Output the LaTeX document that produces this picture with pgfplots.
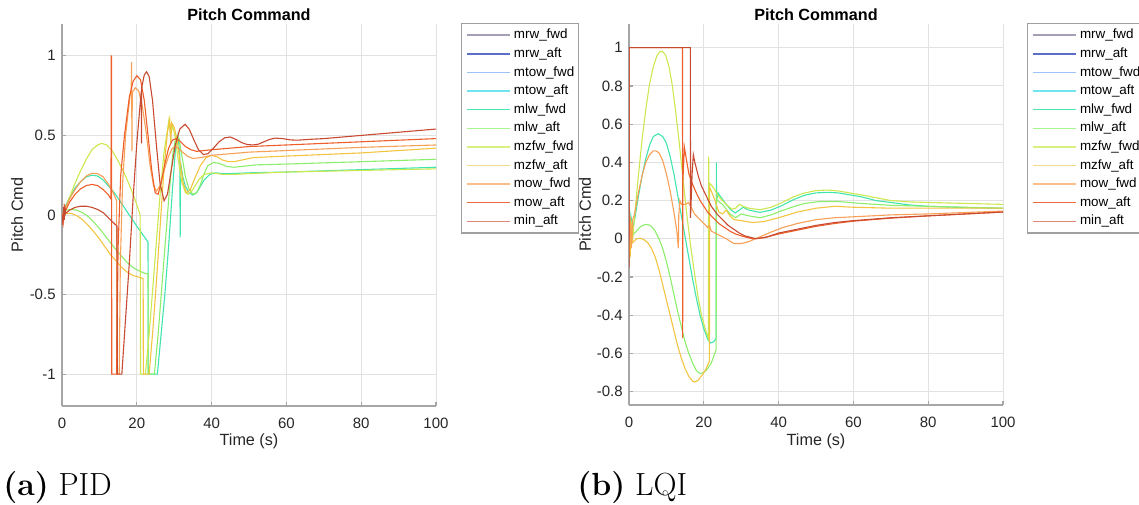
\documentclass[border=0pt]{standalone}
\usepackage{fontspec}
\usepackage{pgfplots}
\pgfplotsset{compat=1.18}
\newfontfamily\arial{Liberation Sans}
\definecolor{axgray}{HTML}{A6A6A6}
\definecolor{gridgray}{HTML}{E2E2E2}
\definecolor{tickgray}{HTML}{262626}
\definecolor{leggray}{HTML}{A0A0A0}
% legend colours
\definecolor{LmrwF}{HTML}{A79FB5}
\definecolor{LmrwA}{HTML}{5C6FC8}
\definecolor{LmtowF}{HTML}{9CC3F5}
\definecolor{LmtowA}{HTML}{72E4F0}
\definecolor{LmlwF}{HTML}{4AE8AA}
\definecolor{LmlwA}{HTML}{A6F58E}
\definecolor{LmzfwF}{HTML}{D8EF82}
\definecolor{LmzfwA}{HTML}{F5D98A}
\definecolor{LmowF}{HTML}{FBBD8A}
\definecolor{LmowA}{HTML}{EE6A3C}
\definecolor{LminA}{HTML}{E08878}
% plot colours
\definecolor{cD}{HTML}{C84A30}
\definecolor{cE}{HTML}{EE5E2A}
\definecolor{cF}{HTML}{F8A055}
\definecolor{cG}{HTML}{F2C440}
\definecolor{cH}{HTML}{CCE850}
\definecolor{cI}{HTML}{8CEE6A}
\definecolor{cJ}{HTML}{40E4AE}
\pgfplotsset{
  mat/.style={
    scale only axis, width=187pt,
    xmin=0, xmax=100, xtick={0,20,40,60,80,100},
    axis x line*=bottom, axis y line*=left,
    axis line style={draw=axgray, line width=1pt, -},
    tick align=inside, major tick length=2.2pt,
    tick style={draw=axgray, line width=0.6pt},
    grid=major, major grid style={draw=gridgray, line width=0.5pt},
    /pgf/number format/assume math mode=true,
    ticklabel style={font=\arial\fontsize{7.5}{9}\selectfont, text=tickgray},
    xticklabel style={anchor=base, yshift=-11.15pt, inner sep=0pt},
    yticklabel style={anchor=east, xshift=-3pt, inner sep=0pt},
    label style={font=\arial\fontsize{8.1}{10}\selectfont, text=tickgray},
    title style={at={(0.5,1)}, anchor=base, yshift=-4.3pt, font=\arial\bfseries\fontsize{8.1}{10}\selectfont},
    title={Pitch Command}, xlabel={Time (s)}, ylabel={Pitch Cmd},
    legend style={anchor=north west, draw=leggray, line width=0.6pt, fill=white,
      font=\arial\fontsize{6.7}{8}\selectfont, inner xsep=2pt, inner ysep=2.7pt,
      row sep=3pt, nodes={inner sep=0pt, text height=4.9pt, text depth=1.4pt},
      cells={anchor=west}, /tikz/every odd column/.append style={column sep=1.6pt}},
    legend image code/.code={\draw[#1] (0pt,0pt) -- (21.5pt,0pt);},
    every axis plot/.append style={line width=0.55pt},
  },
}
\newcommand{\leglist}{%
  \addlegendimage{color=LmrwF, line width=1.1pt}\addlegendentry{mrw\_fwd}
  \addlegendimage{color=LmrwA, line width=0.7pt}\addlegendentry{mrw\_aft}
  \addlegendimage{color=LmtowF, line width=0.7pt}\addlegendentry{mtow\_fwd}
  \addlegendimage{color=LmtowA, line width=0.7pt}\addlegendentry{mtow\_aft}
  \addlegendimage{color=LmlwF, line width=0.7pt}\addlegendentry{mlw\_fwd}
  \addlegendimage{color=LmlwA, line width=0.7pt}\addlegendentry{mlw\_aft}
  \addlegendimage{color=LmzfwF, line width=0.7pt}\addlegendentry{mzfw\_fwd}
  \addlegendimage{color=LmzfwA, line width=0.7pt}\addlegendentry{mzfw\_aft}
  \addlegendimage{color=LmowF, line width=0.7pt}\addlegendentry{mow\_fwd}
  \addlegendimage{color=LmowA, line width=0.7pt}\addlegendentry{mow\_aft}
  \addlegendimage{color=LminA, line width=0.7pt}\addlegendentry{min\_aft}
}
\begin{document}
\begin{tikzpicture}[x=1pt,y=1pt]
\path[use as bounding box] (0,0) rectangle (569.5,252);
% ---------------- (a) PID ----------------
\begin{axis}[mat, at={(31pt,49pt)}, anchor=south west, height=191pt,
  ymin=-1.2, ymax=1.2, ytick={-1,-0.5,0,0.5,1}, yticklabels={-1,-0.5,0,0.5,1},
  ylabel style={at={(axis description cs:-0.1203,0.5)}, anchor=center},
  xlabel style={at={(axis description cs:0.5,-0.0916)}, anchor=center},
  legend style={at={(1.0668,1.0026)}}]
\leglist
% mlw_fwd
\addplot[forget plot, cJ] coordinates {(0,0) (1,0.06) (2,0.11) (3.5,0.17) (5,0.21) (6.5,0.24) (8,0.25) (9.5,0.245) (11,0.22) (12.5,0.18) (14,0.14) (16,0.07) (18,0) (20,-0.07) (21.5,-0.12) (23,-0.17) (23.05,-1) (25.5,-1) (26.5,-0.75) (27.5,-0.5) (28.5,-0.2) (29.5,0.15) (30.3,0.4) (31,0.5) (31.5,0.38) (31.6,-0.14) (31.7,0.33) (32.3,0.24) (33,0.18) (34,0.14) (35,0.125) (36,0.14) (37,0.18) (38,0.22) (39.5,0.255) (41,0.265) (43,0.26) (45,0.26) (50,0.265) (60,0.27) (80,0.285) (100,0.3)};
% mlw_aft
\addplot[forget plot, cI] coordinates {(0,0) (1,0.03) (2.5,0.035) (4,0.03) (5.5,0.015) (7,-0.01) (8.5,-0.045) (10,-0.085) (11.5,-0.13) (13,-0.175) (14.5,-0.22) (16,-0.26) (17.5,-0.3) (19,-0.33) (20.5,-0.35) (22,-0.365) (23,-0.37) (23.05,-1) (24.7,-1) (25.7,-0.75) (26.7,-0.45) (27.7,-0.15) (28.7,0.15) (29.6,0.38) (30.5,0.5) (31.3,0.48) (32,0.38) (33,0.24) (34,0.16) (35,0.13) (36,0.14) (37,0.19) (38,0.26) (39,0.31) (40.5,0.33) (42,0.325) (44,0.305) (46,0.3) (48,0.305) (52,0.315) (60,0.32) (80,0.335) (100,0.35)};
% mzfw_fwd
\addplot[forget plot, cH] coordinates {(0,0) (1,0.05) (2,0.11) (3.5,0.2) (5,0.28) (6.5,0.35) (8,0.41) (9.5,0.44) (10.6,0.45) (12,0.44) (13.5,0.4) (15,0.34) (16.5,0.27) (18,0.19) (19.5,0.1) (20.9,0) (21,-1) (22.3,-1) (23.3,-0.75) (24.3,-0.45) (25.3,-0.15) (26.3,0.15) (27.3,0.4) (28.3,0.55) (28.6,0.6) (29,0.5) (29.5,0.56) (30.2,0.5) (31,0.36) (32,0.21) (33,0.14) (33.8,0.13) (35,0.16) (36.5,0.22) (38,0.255) (40,0.265) (43,0.255) (46,0.255) (50,0.26) (60,0.27) (80,0.28) (100,0.29)};
% mzfw_aft
\addplot[forget plot, cG] coordinates {(0,0) (1,0.008) (2.5,0.01) (4,-0.005) (5.5,-0.03) (7,-0.065) (8.5,-0.105) (10,-0.15) (11.5,-0.2) (13,-0.25) (14.5,-0.29) (16,-0.33) (17.5,-0.36) (19,-0.38) (20.5,-0.39) (21.7,-0.4) (21.75,-1) (23.3,-1) (24.3,-0.72) (25.3,-0.4) (26.3,-0.05) (27.3,0.3) (28.2,0.52) (28.8,0.6) (29.1,0.45) (29.3,0.58) (30,0.55) (30.8,0.47) (31.6,0.33) (32.4,0.2) (33.3,0.14) (34.3,0.16) (35.5,0.23) (37,0.31) (38.5,0.36) (40,0.375) (41.5,0.365) (43,0.345) (44.5,0.335) (46,0.335) (48,0.345) (51,0.36) (55,0.365) (60,0.37) (80,0.39) (100,0.42)};
% mow_fwd
\addplot[forget plot, cF] coordinates {(0,0) (1,0.05) (2,0.1) (3.5,0.16) (5,0.21) (6.5,0.245) (8,0.262) (9.5,0.26) (11,0.24) (12.5,0.19) (13.5,0.15) (14.6,0.09) (14.65,-1) (15.3,-1) (15.6,-0.3) (16.2,0.2) (17,0.5) (18.2,0.75) (18.5,0.78) (18.6,0.96) (18.7,0.4) (18.8,0.77) (19.6,0.8) (20.5,0.78) (21.5,0.68) (22.5,0.52) (23.5,0.32) (24.5,0.18) (25.3,0.15) (26.3,0.19) (27.3,0.28) (28.5,0.37) (29.5,0.42) (30.5,0.43) (32,0.4) (33.5,0.37) (35,0.355) (37,0.36) (40,0.375) (50,0.395) (60,0.405) (80,0.425) (100,0.44)};
% mow_aft
\addplot[forget plot, cE] coordinates {(0,0) (0.3,-0.05) (0.6,0.06) (1,0.03) (2,0.08) (3.5,0.13) (5,0.165) (6.5,0.185) (8,0.192) (9.5,0.185) (11,0.16) (12.3,0.13) (13.1,0.1) (13.15,1) (13.25,1) (13.3,-1) (14.6,-1) (15,-0.2) (15.7,0.25) (16.7,0.5) (18,0.74) (19,0.84) (20,0.875) (21,0.85) (22,0.72) (23,0.5) (24,0.28) (24.9,0.14) (25.7,0.13) (26.5,0.2) (27.5,0.32) (28.5,0.42) (29.5,0.47) (30.5,0.48) (31.5,0.465) (33,0.43) (34.5,0.41) (36,0.4) (38,0.405) (40,0.41) (50,0.43) (60,0.44) (80,0.46) (100,0.48)};
% min_aft
\addplot[forget plot, cD] coordinates {(0,0) (0.2,-0.06) (0.4,0.05) (0.6,-0.03) (0.8,0.04) (1,0.01) (2,0.03) (3.5,0.048) (5,0.055) (6.5,0.055) (8,0.048) (9.5,0.035) (11,0.015) (12.5,-0.02) (14.7,-0.07) (14.8,-1) (16,-1) (17,-0.65) (18,-0.3) (19,0.1) (20,0.45) (21.2,0.78) (21.25,0.45) (21.3,0.8) (22,0.88) (22.6,0.9) (23.3,0.87) (24.2,0.72) (25.2,0.45) (26.2,0.2) (27.3,0.09) (28.2,0.13) (29.2,0.28) (30.3,0.44) (31.5,0.54) (32.9,0.57) (34,0.54) (35.3,0.47) (36.5,0.41) (37.8,0.38) (39,0.385) (40.5,0.42) (42,0.46) (43.5,0.485) (45,0.49) (46.5,0.475) (48,0.455) (49.5,0.443) (51,0.44) (52.5,0.445) (54,0.46) (55.5,0.475) (57,0.483) (59,0.48) (61,0.472) (63,0.47) (66,0.475) (70,0.48) (80,0.5) (90,0.52) (100,0.54)};
\end{axis}
% ---------------- (b) LQI ----------------
\begin{axis}[mat, at={(314.5pt,49.5pt)}, anchor=south west, height=190.5pt,
  ymin=-0.87, ymax=1.124, ytick={-0.8,-0.6,-0.4,-0.2,0,0.2,0.4,0.6,0.8,1},
  yticklabels={-0.8,-0.6,-0.4,-0.2,0,0.2,0.4,0.6,0.8,1},
  ylabel style={at={(axis description cs:-0.1176,0.5)}, anchor=center},
  xlabel style={at={(axis description cs:0.5,-0.0945)}, anchor=center},
  legend style={at={(1.0642,1.0026)}}]
\leglist
% mlw_fwd
\addplot[forget plot, cJ] coordinates {(0,0) (0.5,0.12) (1,0.05) (1.5,0.1) (2.5,0.22) (3.5,0.33) (4.5,0.42) (5.5,0.49) (6.5,0.535) (7.8,0.55) (9,0.535) (10,0.5) (11,0.43) (12,0.34) (13,0.23) (14,0.12) (15,0.01) (16,-0.1) (17,-0.21) (18,-0.31) (19,-0.4) (20,-0.47) (21,-0.525) (21.8,-0.545) (22.6,-0.54) (23.3,-0.52) (23.35,0.4) (23.4,0.2) (23.8,0.24) (24.5,0.22) (26,0.18) (27.3,0.15) (28.4,0.135) (29.5,0.15) (30.5,0.165) (32,0.15) (35,0.138) (38,0.15) (41,0.175) (44,0.205) (47,0.228) (50,0.24) (53,0.243) (56,0.24) (59,0.23) (62,0.22) (66,0.2) (70,0.19) (75,0.177) (80,0.17) (90,0.163) (100,0.16)};
% mlw_aft
\addplot[forget plot, cI] coordinates {(0,0) (0.5,0.08) (1,0.02) (2,0.04) (3,0.062) (4,0.073) (5,0.075) (6,0.065) (7,0.04) (8,0) (9,-0.05) (10,-0.12) (11,-0.2) (12,-0.29) (13,-0.38) (14,-0.46) (15,-0.54) (16,-0.6) (17,-0.65) (18,-0.69) (19,-0.705) (20,-0.7) (21,-0.68) (22,-0.65) (23.3,-0.58) (23.35,0.22) (23.6,0.2) (25,0.18) (27,0.13) (28.5,0.11) (30,0.13) (32,0.12) (35,0.11) (38,0.125) (41,0.148) (44,0.168) (47,0.185) (51,0.195) (56,0.195) (62,0.185) (70,0.175) (80,0.17) (100,0.16)};
% mzfw_fwd
\addplot[forget plot, cH] coordinates {(0,0) (0.5,0.1) (1,0) (1.5,0.12) (2.5,0.33) (3.5,0.52) (4.5,0.68) (5.5,0.81) (6.5,0.9) (7.5,0.96) (8.3,0.98) (9,0.98) (9.8,0.96) (10.7,0.9) (11.6,0.8) (12.5,0.66) (13.5,0.49) (14.5,0.3) (15.5,0.12) (16.5,-0.04) (17.5,-0.18) (18.5,-0.31) (19.5,-0.41) (20.5,-0.48) (21.2,-0.52) (21.3,0.43) (21.4,0.25) (21.6,0.29) (22.5,0.27) (24,0.22) (26,0.18) (27.5,0.155) (28.5,0.16) (29.5,0.18) (30.5,0.17) (32,0.16) (35,0.152) (38,0.165) (41,0.19) (44,0.22) (47,0.24) (50,0.252) (53,0.255) (56,0.25) (59,0.24) (62,0.23) (66,0.215) (70,0.2) (75,0.193) (80,0.19) (90,0.185) (100,0.18)};
% mzfw_aft
\addplot[forget plot, cG] coordinates {(0,0) (0.3,-0.1) (0.6,0.08) (1,-0.02) (2,0) (3,0.003) (4,-0.005) (5,-0.02) (6,-0.05) (7,-0.095) (8,-0.16) (9,-0.24) (10,-0.32) (11,-0.4) (12,-0.48) (13,-0.56) (14,-0.625) (15,-0.68) (16,-0.72) (17,-0.745) (17.6,-0.75) (18.5,-0.74) (19.5,-0.715) (20.5,-0.685) (21.5,-0.64) (21.55,0.27) (22,0.25) (23,0.2) (24,0.14) (25,0.13) (26,0.15) (27,0.12) (28,0.1) (30,0.095) (33,0.085) (36,0.09) (40,0.11) (45,0.14) (50,0.16) (55,0.17) (60,0.165) (70,0.16) (80,0.16) (100,0.16)};
% mow_fwd
\addplot[forget plot, cF] coordinates {(0,0) (0.3,0.12) (0.6,-0.05) (1,0.1) (1.5,0.13) (2.5,0.24) (3.5,0.33) (4.5,0.4) (5.5,0.44) (6.5,0.46) (7.2,0.46) (8,0.45) (9,0.41) (10,0.34) (11,0.25) (12,0.14) (12.8,0.04) (13.2,-0.05) (13.3,0.12) (13.6,0.2) (14,0.18) (15,0.18) (15.9,0.19) (16.5,0.17) (17.5,0.13) (19,0.1) (20,0.08) (21,0.06) (21.5,0.07) (22,0.04) (24,0.02) (26,0) (28,-0.025) (30,-0.025) (32,-0.015) (35,0.01) (38,0.035) (41,0.058) (45,0.08) (50,0.1) (55,0.11) (60,0.115) (70,0.125) (80,0.13) (100,0.145)};
% mow_aft
\addplot[forget plot, cE] coordinates {(0,0) (0.02,1) (14.3,1) (14.35,-0.52) (14.4,0.3) (14.8,0.48) (15.3,0.42) (16,0.34) (17,0.285) (18,0.24) (19,0.2) (20,0.17) (21,0.14) (22.5,0.11) (24,0.08) (25.5,0.06) (27,0.04) (28.5,0.025) (30,0.015) (33,0) (36,0.005) (40,0.025) (45,0.045) (50,0.065) (55,0.08) (60,0.092) (70,0.108) (80,0.12) (90,0.13) (100,0.14)};
% min_aft
\addplot[forget plot, cD] coordinates {(0,-0.15) (0.02,1) (16.4,1) (16.45,0.11) (16.9,0.35) (17.2,0.44) (17.6,0.4) (18.5,0.33) (19.3,0.28) (20,0.25) (21,0.21) (22,0.17) (23.5,0.13) (25,0.1) (26.5,0.07) (28,0.05) (29.5,0.03) (31,0.015) (34,0) (37,0.01) (40,0.03) (45,0.05) (50,0.07) (55,0.085) (60,0.095) (70,0.11) (80,0.12) (90,0.13) (100,0.14)};
\end{axis}
% captions
\node[anchor=base west, inner sep=0pt, font=\fontsize{16}{19}\selectfont] at (1.5,4.5) {\textbf{(a)} PID};
\node[anchor=base west, inner sep=0pt, font=\fontsize{16}{19}\selectfont] at (288.5,4.5) {\textbf{(b)} LQI};
\end{tikzpicture}
\end{document}
